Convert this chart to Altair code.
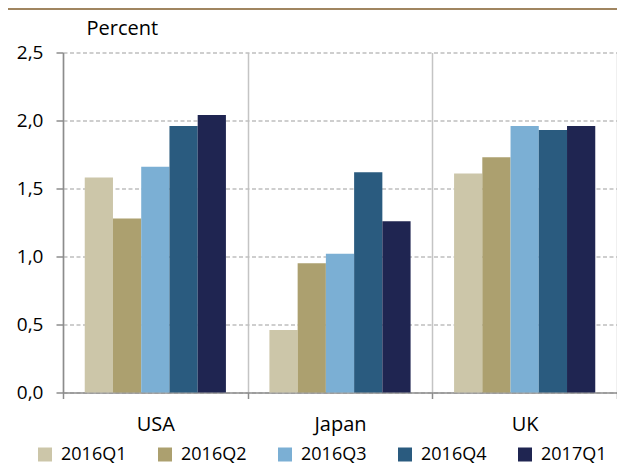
import altair as alt
import pandas as pd

countries = ["USA", "Japan", "UK"]
quarters = ["2016Q1", "2016Q2", "2016Q3", "2016Q4", "2017Q1"]
usa = [1.58, 1.28, 1.66, 1.96, 2.04]
japan = [0.46, 0.95, 1.02, 1.62, 1.26]
uk = [1.61, 1.73, 1.96, 1.93, 1.96]
colors = ["#CCC6A9", "#ACA06F", "#7BAFD4", "#2A5B7F", "#1F2551"]
y_ticks = [0, 0.5, 1.0, 1.5, 2.0, 2.5]

rows = []
for c, vals in zip(countries, [usa, japan, uk]):
    for q, v in zip(quarters, vals):
        rows.append({"country": c, "quarter": q, "value": v})
df = pd.DataFrame(rows)

FONT = "Open Sans"

bars = alt.Chart(df).mark_bar().encode(
    x=alt.X(
        "country:N",
        sort=countries,
        scale=alt.Scale(paddingInner=0, paddingOuter=0),
        axis=alt.Axis(
            title=None,
            labelAngle=0,
            tickBand="extent",
            grid=True,
            gridColor="#C4C4C4",
            gridWidth=1.5,
            domainColor="#8C8C8C",
            domainWidth=1.5,
            tickColor="#8C8C8C",
            tickWidth=1.5,
            tickSize=6,
            labelPadding=32,
            labelBaseline="alphabetic",
            labelFont=FONT,
            labelFontSize=20,
            labelColor="#000000",
        ),
    ),
    xOffset=alt.XOffset(
        "quarter:N",
        sort=quarters,
        scale=alt.Scale(paddingOuter=0.77, paddingInner=0),
    ),
    y=alt.Y(
        "value:Q",
        scale=alt.Scale(domain=[0, 2.5], nice=False),
        axis=alt.Axis(
            values=y_ticks,
            labelExpr="replace(format(datum.value, '.1f'), '.', ',')",
            title="Percent",
            titleAngle=0,
            titleAlign="left",
            titleBaseline="alphabetic",
            titleX=23,
            titleY=-18.5,
            titleFont=FONT,
            titleFontSize=20,
            titleFontWeight="normal",
            titleColor="#000000",
            grid=True,
            gridColor="#BFBFBF",
            gridDash=[4, 2.5],
            gridWidth=1.5,
            domainColor="#8C8C8C",
            domainWidth=1.5,
            tickColor="#8C8C8C",
            tickWidth=1.5,
            tickSize=7,
            labelPadding=13,
            labelFont=FONT,
            labelFontSize=19,
            labelColor="#000000",
        ),
    ),
    color=alt.Color(
        "quarter:N",
        sort=quarters,
        scale=alt.Scale(domain=quarters, range=colors),
        legend=alt.Legend(
            title=None,
            orient="none",
            legendX=-27,
            legendY=393,
            direction="horizontal",
            columns=5,
            gridAlign="all",
            padding=0,
            symbolType="square",
            symbolSize=196,
            symbolStrokeWidth=0,
            symbolOpacity=1,
            labelOffset=7,
            columnPadding=29,
            labelFont=FONT,
            labelFontSize=18,
            labelColor="#000000",
        ),
    ),
)

topline = alt.Chart(pd.DataFrame({"a": [0]})).mark_rule(
    color="#A08560", strokeWidth=2
).encode(x=alt.value(-55), x2=alt.value(554), y=alt.value(-43.5))

chart = alt.layer(bars, topline).properties(
    width=554,
    height=340,
    autosize=alt.AutoSizeParams(type="none"),
    padding={"left": 55, "top": 44.5, "right": 0, "bottom": 73},
).configure_view(stroke=None)

chart.save("out.html", embed_options={"renderer": "svg", "actions": False})
